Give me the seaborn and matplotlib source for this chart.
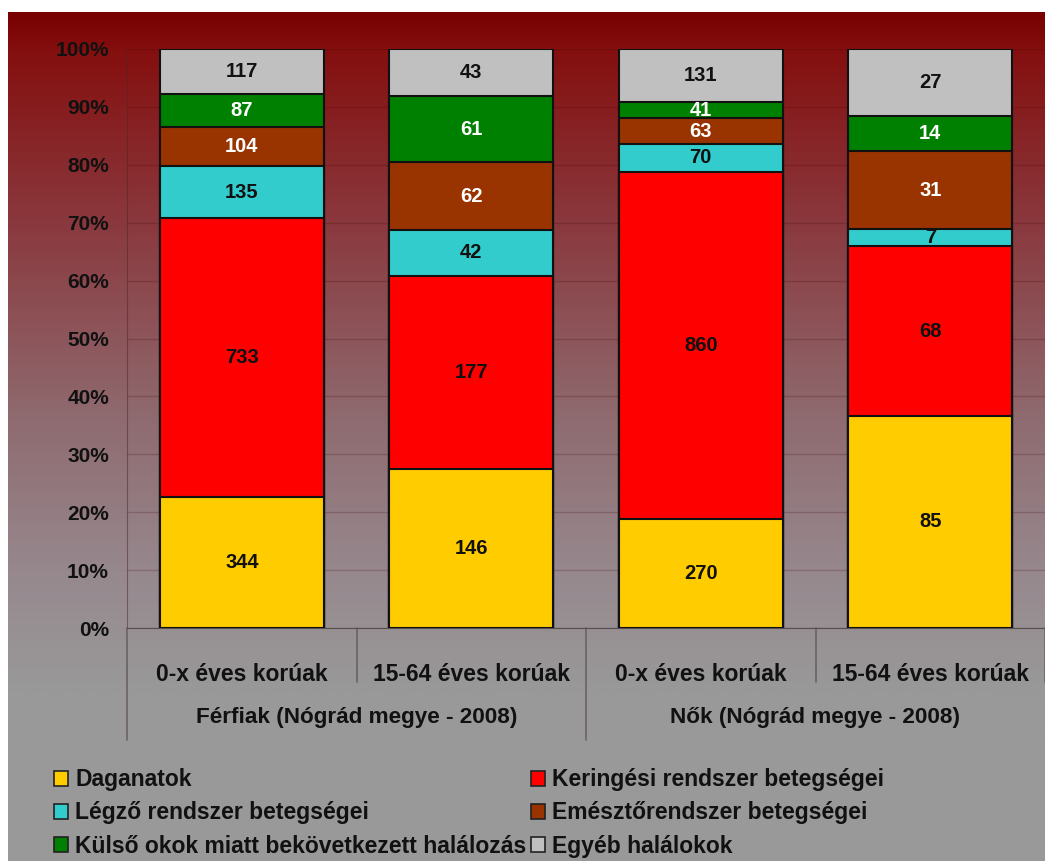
import numpy as np
import pandas as pd
import matplotlib
matplotlib.use('Agg')
import matplotlib.pyplot as plt
from matplotlib.patches import Patch
from matplotlib.ticker import PercentFormatter
import seaborn as sns

sns.set_style('white')
plt.rcParams['font.family'] = ['Liberation Sans', 'DejaVu Sans']
plt.rcParams['font.weight'] = 'bold'
plt.rcParams['text.color'] = '#111111'
plt.rcParams['xtick.labelcolor'] = '#111111'
plt.rcParams['ytick.labelcolor'] = '#111111'

# data
bar_keys = ['F 0-x', 'F 15-64', 'N 0-x', 'N 15-64']
tick_labels = ['0-x éves korúak', '15-64 éves korúak', '0-x éves korúak', '15-64 éves korúak']
groups = ['Férfiak (Nógrád megye - 2008)', 'Nők (Nógrád megye - 2008)']
causes = ['Daganatok', 'Keringési rendszer betegségei', 'Légző rendszer betegségei',
          'Emésztőrendszer betegségei', 'Külső okok miatt bekövetkezett halálozás', 'Egyéb halálokok']
daganatok = [344, 146, 270, 85]
keringesi = [733, 177, 860, 68]
legzo = [135, 42, 70, 7]
emeszto = [104, 62, 63, 31]
kulso = [87, 61, 41, 14]
egyeb = [117, 43, 131, 27]
colors = ['#FFCC00', '#FF0000', '#33CCCC', '#993300', '#008000', '#C0C0C0']
text_colors = ['#111111', '#111111', '#111111', 'white', 'white', '#111111']

df = pd.DataFrame([daganatok, keringesi, legzo, emeszto, kulso, egyeb],
                  index=causes, columns=bar_keys)
share = df / df.sum()
cum = share.cumsum()

fig = plt.figure(figsize=(10.45, 8.61), dpi=100)

# gradient background panel
bg = fig.add_axes([8 / 1045, 0, 1 - 8 / 1045, 849 / 861], zorder=-10)
stops = [0.0, 0.045, 0.245, 0.48, 0.67, 0.80, 1.0]
rgb = np.array([[0.47, 0.0, 0.0], [0.52, 0.06, 0.06], [0.54, 0.22, 0.24],
                [0.56, 0.42, 0.44], [0.59, 0.54, 0.56], [0.60, 0.60, 0.60],
                [0.60, 0.60, 0.60]])
yy = np.linspace(0, 1, 400)
grad = np.stack([np.interp(yy, stops, rgb[:, c]) for c in range(3)], axis=1)
bg.imshow(grad[:, None, :], aspect='auto', extent=[0, 1, 1, 0])
bg.set_axis_off()

ax = fig.add_axes([127 / 1045, 1 - 628 / 861, 1 - 127 / 1045, (628 - 49) / 861])
ax.patch.set_alpha(0)

# stacked bars: draw cumulative totals from the top down
for cause, col in reversed(list(zip(causes, colors))):
    sns.barplot(x=bar_keys, y=cum.loc[cause].values, order=bar_keys, color=col,
                width=0.713, edgecolor='#111111', linewidth=1.5, saturation=1,
                ax=ax, zorder=3)

for i, key in enumerate(bar_keys):
    for cause, tc in zip(causes, text_colors):
        mid = cum.loc[cause, key] - share.loc[cause, key] / 2
        ax.text(i, mid, str(df.loc[cause, key]), ha='center', va='center',
                fontsize=14.5, fontweight='bold', color=tc, zorder=5)

ax.set_xlim(-0.5, 3.5)
ax.set_ylim(0, 1)
ax.set_yticks(np.arange(0, 1.01, 0.1))
ax.yaxis.set_major_formatter(PercentFormatter(1.0, decimals=0))
ax.grid(axis='y', color=(0.25, 0.0, 0.0), alpha=0.2, linewidth=1)
ax.set_axisbelow(True)
ax.tick_params(axis='y', length=9, width=1, color=(0.3, 0.1, 0.1), labelsize=15, pad=4)
ax.set_xticks(range(4))
ax.set_xticklabels(tick_labels, fontsize=16.5, fontweight='bold')
ax.tick_params(axis='x', length=0, pad=25)
for lab in ax.get_yticklabels():
    lab.set_fontweight('bold')
ax.set_xlabel('')
ax.set_ylabel('')
for s in ['top', 'right']:
    ax.spines[s].set_visible(False)
ax.spines['left'].set_color((0.3, 0.15, 0.15))
ax.spines['left'].set_alpha(0.5)
ax.spines['bottom'].set_color((0.35, 0.3, 0.3))

# category and group separators
xt = ax.get_xaxis_transform()
sep_col = (0.42, 0.38, 0.40)
for b in np.arange(-0.5, 3.6, 1.0):
    low = -0.193 if b in (-0.5, 1.5) else -0.093
    ax.plot([b, b], [0, low], transform=xt, color=sep_col, lw=1.2, clip_on=False)
for g, gx in zip(groups, [0.5, 2.5]):
    ax.text(gx, -0.155, g, transform=xt, ha='center', va='center',
            fontsize=16.2, fontweight='bold', color='#111111')

handles = [Patch(facecolor=c, edgecolor='#222222', linewidth=1.2, label=l)
           for c, l in zip(colors, causes)]
order = [0, 2, 4, 1, 3, 5]
fig.legend([handles[k] for k in order], [causes[k] for k in order], ncol=2,
           loc='upper left', bbox_to_anchor=(45 / 1045, 1 - 759 / 861),
           frameon=False, prop={'size': 16.5, 'weight': 'bold'},
           handlelength=0.62, handleheight=0.62, handletextpad=0.3,
           columnspacing=0.2, labelspacing=0.45, borderaxespad=0)

fig.savefig('out.png', dpi=100)
